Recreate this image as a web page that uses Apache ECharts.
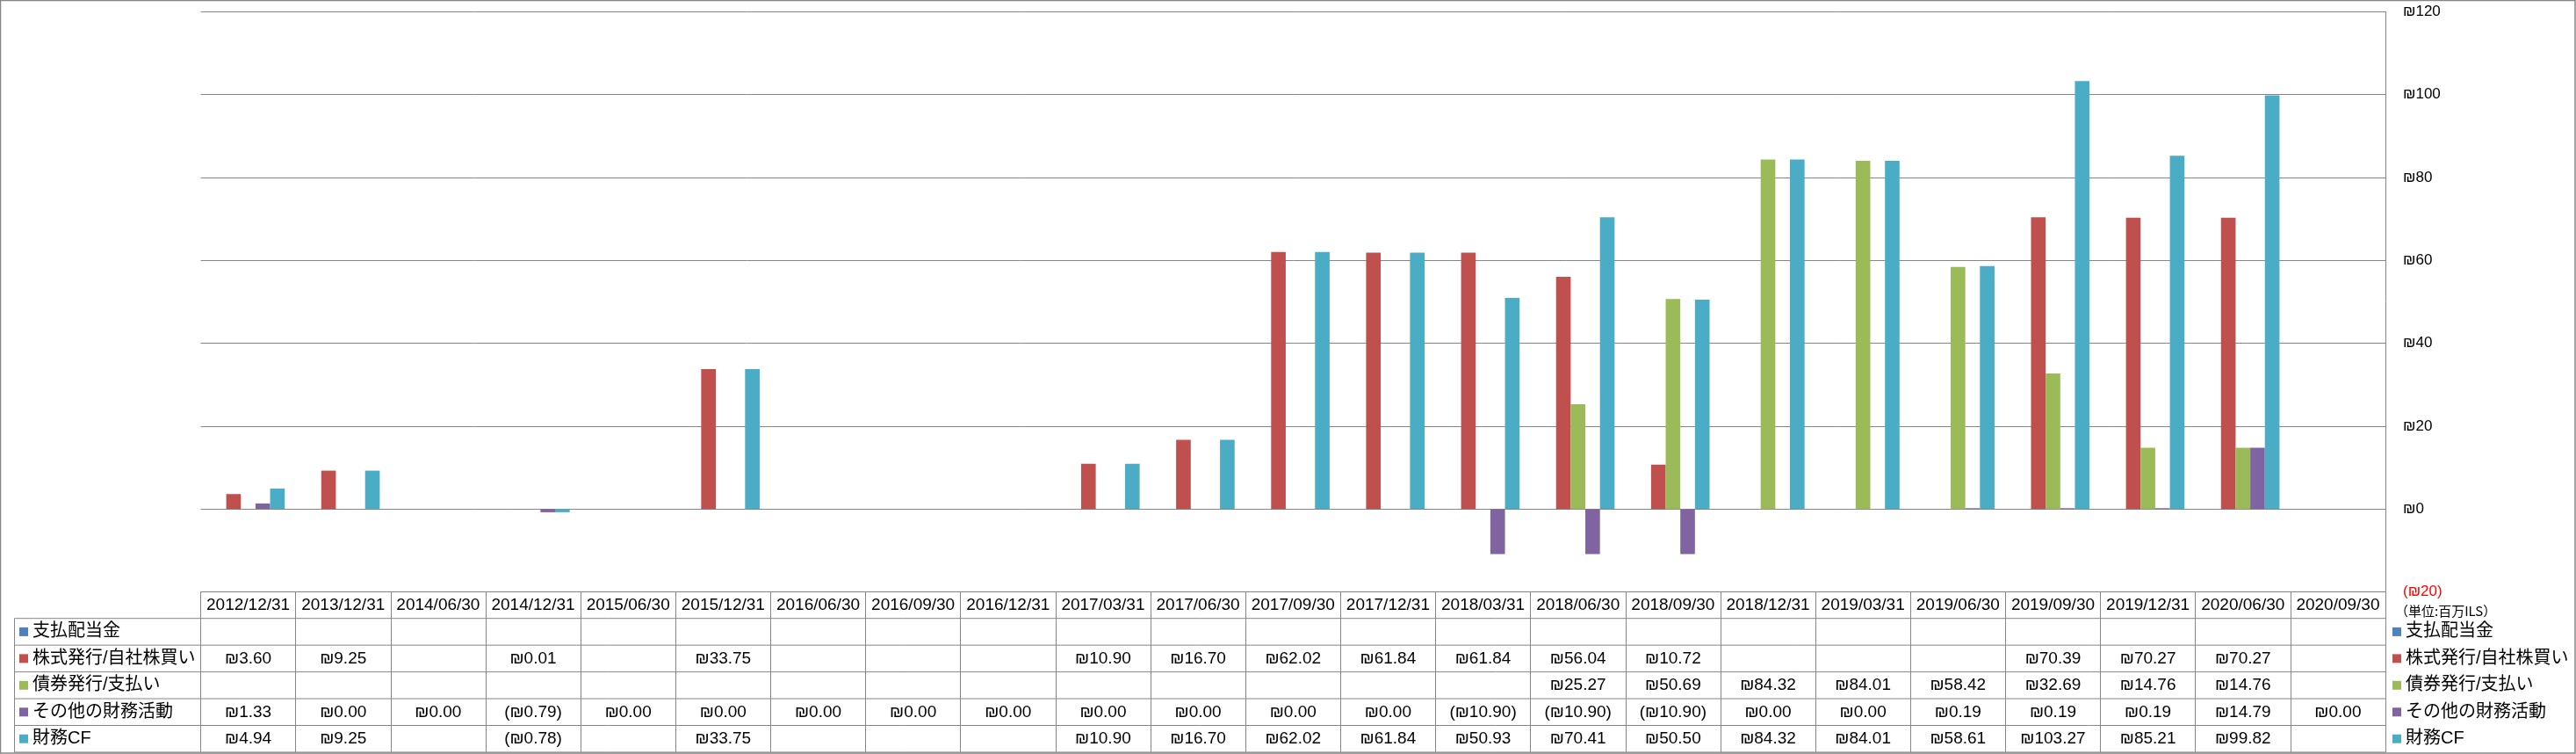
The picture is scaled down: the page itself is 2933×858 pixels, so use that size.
<!DOCTYPE html>
<html><head><meta charset="utf-8">
<script src="https://cdn.jsdelivr.net/npm/echarts@6/dist/echarts.min.js"></script>
<style>html,body{margin:0;padding:0;background:#fff}#c{width:2933px;height:858px}</style>
</head><body><div id="c"></div><script>
// ---- data ----
const categories = ['2012/12/31','2013/12/31','2014/06/30','2014/12/31','2015/06/30','2015/12/31','2016/06/30','2016/09/30','2016/12/31','2017/03/31','2017/06/30','2017/09/30','2017/12/31','2018/03/31','2018/06/30','2018/09/30','2018/12/31','2019/03/31','2019/06/30','2019/09/30','2019/12/31','2020/06/30','2020/09/30'];
const seriesNames = ['支払配当金','株式発行/自社株買い','債券発行/支払い','その他の財務活動','財務CF'];
const dividends = [null,null,null,null,null,null,null,null,null,null,null,null,null,null,null,null,null,null,null,null,null,null,null];
const equity = [3.60,9.25,null,0.01,null,33.75,null,null,null,10.90,16.70,62.02,61.84,61.84,56.04,10.72,null,null,null,70.39,70.27,70.27,null];
const debt = [null,null,null,null,null,null,null,null,null,null,null,null,null,null,25.27,50.69,84.32,84.01,58.42,32.69,14.76,14.76,null];
const other = [1.33,0.00,0.00,-0.79,0.00,0.00,0.00,0.00,0.00,0.00,0.00,0.00,0.00,-10.90,-10.90,-10.90,0.00,0.00,0.19,0.19,0.19,14.79,0.00];
const financingCF = [4.94,9.25,null,-0.78,null,33.75,null,null,null,10.90,16.70,62.02,61.84,50.93,70.41,50.50,84.32,84.01,58.61,103.27,85.21,99.82,null];
const unitLabel = '（単位:百万ILS）';
const seriesData = [dividends, equity, debt, other, financingCF];
const colors = ['#4F81BD','#C0504D','#9BBB59','#8064A2','#4BACC6'];

// ---- layout ----
const W = 2933, H = 858;
const GRID_L = 228.5, GRID_R = 2716, GRID_T = 13.3, GRID_B = 673.5;
const HEADER_B = 703.7, ROW_H = 30.45, TABLE_B = 856;
const LINE = '#868686';
const TXT_FONT = '"Liberation Sans","Noto Sans CJK JP",sans-serif';

function fmt(v){
  if (v === null || v === undefined) return '';
  if (v < 0) return '(₪' + (-v).toFixed(2) + ')';
  return '₪' + v.toFixed(2);
}

const rowCenters = seriesData.map((_, k) => HEADER_B + ROW_H * (k + 0.5));
const headerCenter = (GRID_B + HEADER_B) / 2;

const xAxes = [{
  type: 'category', data: categories, gridIndex: 0, position: 'bottom',
  axisLine: { show: true, onZero: false, lineStyle: { color: LINE, width: 1 } },
  axisTick: { show: true, length: TABLE_B - GRID_B, lineStyle: { color: LINE, width: 1 } },
  axisLabel: { interval: 0, margin: headerCenter - GRID_B, verticalAlign: 'middle', fontSize: 19, color: '#000', fontFamily: TXT_FONT },
  splitLine: { show: false }
}];
seriesData.forEach((arr, k) => {
  xAxes.push({
    type: 'category', data: categories, gridIndex: 0, position: 'bottom',
    offset: rowCenters[k] - GRID_B,
    axisLine: { show: false, onZero: false }, axisTick: { show: false }, splitLine: { show: false },
    axisLabel: { interval: 0, margin: 0, verticalAlign: 'middle', fontSize: 19, color: '#000', fontFamily: TXT_FONT,
      formatter: (val, idx) => fmt(arr[idx]) }
  });
});

const graphics = [
  { type: 'rect', shape: { x: 0.5, y: 0.5, width: W - 1.5, height: H - 1.5 }, style: { fill: 'none', stroke: LINE, lineWidth: 1.5 }, silent: true },
  { type: 'line', shape: { x1: 16.5, y1: HEADER_B, x2: 16.5, y2: TABLE_B }, style: { stroke: LINE, lineWidth: 1 }, silent: true },
  { type: 'text', left: 2727, top: 688, style: { text: unitLabel, fontSize: 15, fill: '#000', fontFamily: '"Noto Sans CJK JP",sans-serif' }, silent: true }
];
for (let k = 0; k <= seriesData.length; k++) {
  const y = HEADER_B + ROW_H * k;
  graphics.push({ type: 'line', shape: { x1: 16.5, y1: y, x2: GRID_R, y2: y }, style: { stroke: LINE, lineWidth: 1 }, silent: true });
}

const legendBase = {
  orient: 'vertical', icon: 'rect', itemWidth: 10, itemHeight: 10, itemGap: ROW_H - 20,
  padding: 0, selectedMode: false, top: rowCenters[0] - 10,
  textStyle: { fontSize: 20, lineHeight: 20, color: '#000', fontFamily: TXT_FONT },
  data: seriesNames
};

const option = {
  animation: false,
  backgroundColor: '#fff',
  color: colors,
  grid: { left: GRID_L, right: W - GRID_R, top: GRID_T, bottom: H - GRID_B, containLabel: false },
  legend: [
    Object.assign({}, legendBase, { left: 22 }),
    Object.assign({}, legendBase, { left: 2724 })
  ],
  xAxis: xAxes,
  yAxis: {
    type: 'value', position: 'right', min: -20, max: 120, interval: 20,
    axisLine: { show: true, lineStyle: { color: LINE, width: 1 } },
    axisTick: { show: false },
    splitLine: { show: true, lineStyle: { color: LINE, width: 1 } },
    axisLabel: {
      margin: 20, fontSize: 17, fontFamily: '"Liberation Sans",sans-serif',
      formatter: v => v < 0 ? '(₪' + (-v) + ')' : '₪' + v,
      color: v => (Number(v) < 0 ? '#FF0000' : '#000')
    }
  },
  series: seriesNames.map((name, k) => ({
    name, type: 'bar', data: seriesData[k], xAxisIndex: 0,
    barGap: '0%', barCategoryGap: '23%'
  })),
  graphic: graphics
};

const chart = echarts.init(document.getElementById('c'), null, { renderer: 'canvas' });
chart.setOption(option);
</script></body></html>
